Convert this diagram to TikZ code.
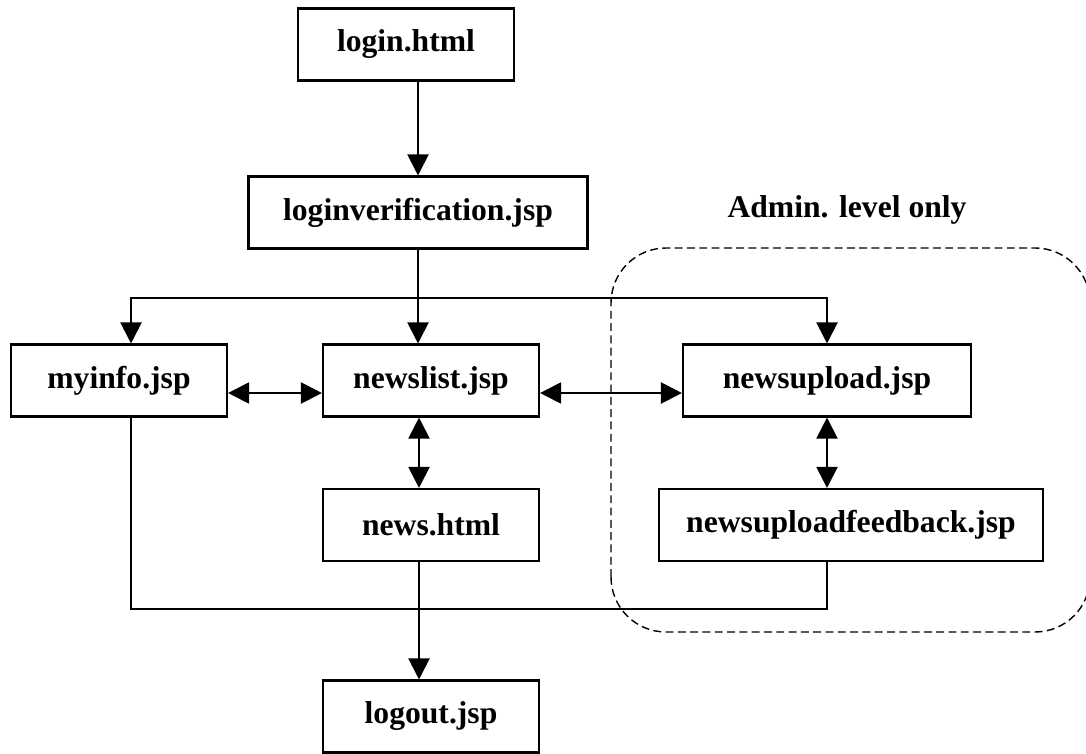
\documentclass[tikz,border=0pt]{standalone}
\usepackage{fontspec}
\setmainfont{Liberation Serif}
\usepackage{tikz}
\usetikzlibrary{arrows.meta}
\usetikzlibrary{calc}
\usetikzlibrary{positioning}
\tikzset{page/.style={draw=black,line width=1.2pt,minimum width=4.32cm,minimum height=1.44cm,
    font=\bfseries\fontsize{18}{22}\selectfont}}
\tikzset{arrow/.style={-{Triangle[length=0.42cm,width=0.42cm]},line width=1.2pt}}
\tikzset{twoway/.style={{Triangle[length=0.42cm,width=0.42cm]}-{Triangle[length=0.42cm,width=0.42cm]},line width=1.2pt}}
\tikzset{link/.style={line width=1.2pt}}

\begin{document}
\begin{tikzpicture}
        \useasboundingbox (0,0) rectangle (21.72,15.06);

        \node[page] (lgn) at (8.12,14.17) {login.html};
        \node[page,minimum width=6.78cm] (ver) at (8.36,10.81) {loginverification.jsp};
        \node[page] (inf) at (2.38,7.45) {myinfo.jsp};
        \node[page] (lst) at (8.62,7.45) {newslist.jsp};
        \node[page,minimum width=5.76cm] (upl) at (16.54,7.45) {newsupload.jsp};
        \node[page] (nws) at (8.62,4.56) {news.html};
        \node[page,minimum width=7.68cm] (fbk) at (17.02,4.56) {newsuploadfeedback.jsp};
        \node[page] (out) at (8.62,0.73) {logout.jsp};

        % admin area
        \draw[dash pattern=on 4.5pt off 2.5pt,line width=0.8pt,rounded corners=1.1cm]
            (12.22,2.42) rectangle (21.8,10.1);
        \node[font=\bfseries\fontsize{18}{22}\selectfont] (adm) at (16.94,10.86) {Admin. level only};

        \coordinate (spl) at ($(ver.south)!0.52!(ver |- lst.north)$);
        \coordinate (mrg) at (8.38,2.88);

        \draw[arrow] (ver |- lgn.south) -- (ver.north);
        \draw[arrow] (ver) -- (ver |- lst.north);
        \draw[arrow] (spl) -| ([xshift=0.24cm]inf.north);
        \draw[arrow] (spl) -| (upl.north);
        \draw[twoway] ([yshift=-0.25cm]inf.east) -- ([yshift=-0.25cm]lst.west);
        \draw[twoway] ([yshift=-0.25cm]lst.east) -- ([yshift=-0.25cm]upl.west);
        \draw[twoway] ([xshift=-0.24cm]lst.south) -- ([xshift=-0.24cm]nws.north);
        \draw[twoway] (upl.south) -- (upl.south |- fbk.north);
        \draw[link] ([xshift=0.24cm]inf.south) |- (mrg) -| (upl |- fbk.south);
        \draw[arrow] ([xshift=-0.24cm]nws.south) -- ([xshift=-0.24cm]out.north);
\end{tikzpicture}
\end{document}
